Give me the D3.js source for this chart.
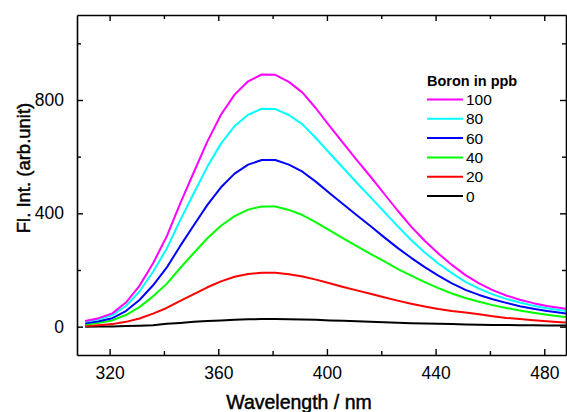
<!DOCTYPE html>
<html>
<head>
<meta charset="utf-8">
<script src="https://cdn.jsdelivr.net/npm/d3@7/dist/d3.min.js"></script>
<style>
  html, body { margin: 0; padding: 0; background: #fff; }
  svg { display: block; font-family: "Liberation Sans", Arial, sans-serif; }
</style>
</head>
<body>
<svg id="chart" width="567" height="412"></svg>
<script>
const wavelengths = [311,316,321,326,331,336,341,346,351,356,361,366,371,376,381,386,391,396,401,406,411,416,421,426,431,436,441,446,451,456,461,466,471,476,481,486,488];
const ppb100 = [20,30,47,85,144,224,318,435,545,654,748,819,866,890,889,864,826,770,708,648,588,530,470,410,353,303,258,218,182,153,129,110,95,83,73,66,63];
const ppb80  = [17,26,41,73,124,194,275,376,471,565,646,708,748,769,768,747,714,665,612,560,508,457,406,355,306,262,223,189,158,134,114,98,85,74,65,58,56];
const ppb60  = [12,19,30,55,94,146,208,285,358,430,492,540,572,588,588,572,547,511,471,432,393,355,316,278,243,210,180,153,130,112,97,84,72,63,55,49,46];
const ppb40  = [8,14,22,41,69,107,151,207,260,312,356,390,413,424,424,412,394,368,340,312,284,257,231,204,180,157,136,117,101,88,76,66,57,49,42,36,34];
const ppb20  = [2,5,9,17,29,46,66,91,115,139,160,176,186,190,190,185,177,166,153,140,128,116,104,92,81,71,62,55,50,44,37,31,27,23,19,16,15];
const ppb0   = [0,1,1,2,3,5,10,13,17,20,22,24,26,27,27,26,25,24,22,21,19,17,16,14,12,11,10,9,8,7,6,6,5,5,4,4,4];

const seriesNames = ["100","80","60","40","20","0"];
const seriesColors = ["#ff00ff","#00ffff","#0000ff","#00ff00","#ff0000","#000000"];
const seriesValues = [ppb100, ppb80, ppb60, ppb40, ppb20, ppb0];

const xTicks = [320,360,400,440,480];
const xMinor = [340,380,420,460];
const yTicks = [0,400,800];
const yMinor = [200,600,1000];

const legendTitle = "Boron in ppb";
const xLabel = "Wavelength / nm";
const yLabel = "Fl. Int. (arb.unit)";

const svg = d3.select("#chart");
const m = {left: 77, right: 566, top: 15, bottom: 355};

const x = d3.scaleLinear().domain([308, 488]).range([m.left, m.right]);
const y = d3.scaleLinear().domain([-100, 1100]).range([m.bottom, m.top]);

svg.append("defs").append("clipPath").attr("id","clip")
  .append("rect").attr("x", m.left).attr("y", m.top)
  .attr("width", m.right - m.left).attr("height", m.bottom - m.top);

const line = d3.line().x((d,i) => x(wavelengths[i])).y(d => y(d));

const gLines = svg.append("g").attr("clip-path","url(#clip)");
for (let k = seriesValues.length - 1; k >= 0; k--) {
  gLines.append("path")
    .datum(seriesValues[k])
    .attr("fill","none")
    .attr("stroke", seriesColors[k])
    .attr("stroke-width", 2)
    .attr("stroke-linejoin","round")
    .attr("d", line);
}

const tickStyle = g => {
  g.select(".domain").attr("stroke","#000").attr("stroke-width",1.6);
  g.selectAll(".tick line").attr("stroke","#000").attr("stroke-width",1.4);
  g.selectAll(".tick text").attr("fill","#000").style("font-size","17.5px");
};
function minorTicks(axisFn, scale, vals, tr) {
  const g = svg.append("g").attr("transform", tr)
    .call(axisFn(scale).tickValues(vals).tickSize(-4).tickFormat(""));
  g.select(".domain").remove();
  g.selectAll(".tick line").attr("stroke","#000").attr("stroke-width",1.4);
}

const gx = svg.append("g").attr("transform",`translate(0,${m.bottom})`)
  .call(d3.axisBottom(x).tickValues(xTicks).tickSize(-6).tickPadding(12).tickSizeOuter(0));
tickStyle(gx);
minorTicks(d3.axisBottom, x, xMinor, `translate(0,${m.bottom})`);

const gxt = svg.append("g").attr("transform",`translate(0,${m.top})`)
  .call(d3.axisTop(x).tickValues(xTicks).tickSize(-6).tickFormat("").tickSizeOuter(0));
tickStyle(gxt);
minorTicks(d3.axisTop, x, xMinor, `translate(0,${m.top})`);

const gy = svg.append("g").attr("transform",`translate(${m.left},0)`)
  .call(d3.axisLeft(y).tickValues(yTicks).tickSize(-6).tickPadding(13).tickSizeOuter(0));
tickStyle(gy);
minorTicks(d3.axisLeft, y, yMinor, `translate(${m.left},0)`);

const gyr = svg.append("g").attr("transform",`translate(${m.right},0)`)
  .call(d3.axisRight(y).tickValues(yTicks).tickSize(-6).tickFormat("").tickSizeOuter(0));
tickStyle(gyr);
minorTicks(d3.axisRight, y, yMinor, `translate(${m.right},0)`);

svg.append("text").attr("x", 299).attr("y", 409).attr("text-anchor","middle")
  .style("font-size","19.5px").attr("stroke","#000").attr("stroke-width",0.45)
  .attr("fill","#000").text(xLabel);
svg.append("text").attr("transform",`translate(30,168) rotate(-90)`).attr("text-anchor","middle")
  .style("font-size","18.5px").attr("stroke","#000").attr("stroke-width",0.45)
  .attr("fill","#000").text(yLabel);

const lg = svg.append("g");
lg.append("text").attr("x", 427).attr("y", 86).style("font-size","14.5px").style("font-weight","bold")
  .attr("fill","#000").text(legendTitle);
seriesNames.forEach((name, i) => {
  const yy = 99.5 + i * 19.3;
  lg.append("line").attr("x1", 427).attr("x2", 463).attr("y1", yy).attr("y2", yy)
    .attr("stroke", seriesColors[i]).attr("stroke-width", 2);
  lg.append("text").attr("x", 466).attr("y", yy + 5.5).style("font-size","15.5px")
    .attr("fill","#000").text(name);
});
</script>
</body>
</html>
